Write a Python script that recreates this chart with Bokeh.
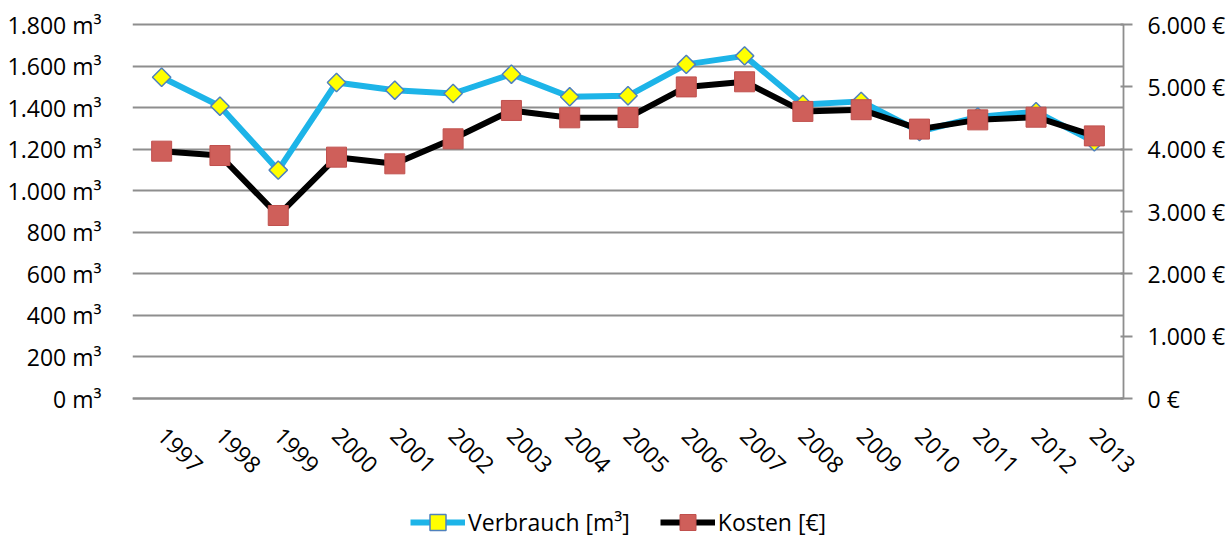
import math
from bokeh.plotting import figure
from bokeh.models import (Range1d, LinearAxis, FixedTicker, Legend, LegendItem, Grid)
from bokeh.embed import file_html
from bokeh.resources import INLINE

years = ["1997", "1998", "1999", "2000", "2001", "2002", "2003", "2004", "2005",
         "2006", "2007", "2008", "2009", "2010", "2011", "2012", "2013"]
verbrauch = [1546, 1407, 1099, 1521, 1484, 1468, 1561, 1452, 1457,
             1608, 1649, 1415, 1430, 1285, 1355, 1380, 1235]
kosten = [3968, 3898, 2936, 3872, 3765, 4166, 4621, 4503, 4507,
          4999, 5081, 4606, 4633, 4322, 4470, 4513, 4213]

left_ticks = [0, 200, 400, 600, 800, 1000, 1200, 1400, 1600, 1800]
left_labels = ["0 m³", "200 m³", "400 m³", "600 m³", "800 m³", "1.000 m³",
               "1.200 m³", "1.400 m³", "1.600 m³", "1.800 m³"]
right_ticks = [0, 1000, 2000, 3000, 4000, 5000, 6000]
right_labels = ["0 €", "1.000 €", "2.000 €", "3.000 €", "4.000 €", "5.000 €", "6.000 €"]

FONT = "Open Sans"
FS = "23px"
GRID = "#8E8E8E"

# category positions (one slot per year)
xs = list(range(len(years)))
x_lo, x_hi = xs[0] - 0.5, xs[-1] + 0.5

# layout: plot area 991 x 374 px; frame extended right (right axis labels),
# up (top label) and down (category labels and legend)
PLOT_W, PLOT_H = 991, 374
EXTRA_R, EXTRA_B, EXTRA_T = 109, 137, 24
slot = PLOT_W / len(years)
y_lo = -EXTRA_B * 1800 / PLOT_H
y_hi = 1800 + EXTRA_T * 1800 / PLOT_H

p = figure(frame_width=PLOT_W + EXTRA_R, frame_height=PLOT_H + EXTRA_B + EXTRA_T,
           x_range=Range1d(x_lo, x_hi + EXTRA_R / slot),
           y_range=Range1d(y_lo, y_hi), output_backend="svg", toolbar_location=None,
           min_border_left=132, min_border_right=0, min_border_top=0,
           min_border_bottom=0, outline_line_color=None)
p.extra_y_ranges = {"eur": Range1d(y_lo * 6000 / 1800, y_hi * 6000 / 1800)}

# left axis
yax = p.yaxis[0]
yax.ticker = FixedTicker(ticks=left_ticks)
yax.bounds = (0, 1800)
yax.major_label_overrides = dict(zip(left_ticks, left_labels))
yax.axis_line_color = None
yax.major_tick_line_color = None
yax.minor_tick_line_color = None
yax.major_label_standoff = 25
yax.major_label_text_font = FONT
yax.major_label_text_font_size = FS
yax.major_label_text_color = "#000000"

p.xgrid.grid_line_color = None
yg = p.ygrid[0]
yg.ticker = FixedTicker(ticks=left_ticks)
yg.grid_line_color = GRID
yg.grid_line_width = 1.8
if "cross_bounds" in Grid.properties():
    yg.cross_bounds = (x_lo, x_hi)
else:
    yg.grid_line_color = None
    p.segment(x0=[x_lo] * len(left_ticks), x1=[x_hi] * len(left_ticks),
              y0=left_ticks, y1=left_ticks, line_color=GRID, line_width=1.8)

# x axis, pinned at value 0
xax = p.xaxis[0]
xax.fixed_location = 0
xax.bounds = (x_lo, x_hi)
xax.ticker = FixedTicker(ticks=xs)
xax.major_label_overrides = dict(zip(xs, years))
xax.major_label_orientation = -math.pi / 4
xax.axis_line_color = GRID
xax.axis_line_width = 1.8
xax.major_tick_line_color = None
xax.minor_tick_line_color = None
xax.major_label_standoff = 27
xax.major_label_text_font = FONT
xax.major_label_text_font_size = FS
xax.major_label_text_color = "#000000"

# right axis, pinned at the right edge of the plot area
rax = LinearAxis(y_range_name="eur", ticker=FixedTicker(ticks=right_ticks),
                 bounds=(0, 6000), fixed_location=x_hi)
rax.major_label_overrides = dict(zip(right_ticks, right_labels))
rax.axis_line_color = GRID
rax.axis_line_width = 1.8
rax.major_tick_line_color = GRID
rax.major_tick_line_width = 1.8
rax.major_tick_in = 3
rax.major_tick_out = 9
rax.minor_tick_line_color = None
rax.major_label_standoff = 15
rax.major_label_text_font = FONT
rax.major_label_text_font_size = FS
rax.major_label_text_color = "#000000"
p.add_layout(rax, "right")

# series
r1 = p.line(xs, verbrauch, line_color="#1DB4E8", line_width=6, line_join="round")
r2 = p.scatter(xs, verbrauch, marker="square", angle=math.pi / 4, size=13,
               fill_color="#FFFF00", line_color="#4F81BD", line_width=1.5)
r3 = p.line(xs, kosten, y_range_name="eur", line_color="#000000", line_width=6,
            line_join="round")
r4 = p.scatter(xs, kosten, y_range_name="eur", marker="square", size=20,
               fill_color="#CF5F5A", line_color="#C0504D", line_width=1)

legend = Legend(items=[LegendItem(label="Verbrauch [m³]", renderers=[r1, r2]),
                       LegendItem(label="Kosten [€]", renderers=[r3, r4])],
                orientation="horizontal", location=(278, -7),
                padding=0, margin=0, spacing=30, label_standoff=3,
                glyph_width=55, glyph_height=40,
                border_line_color=None, background_fill_alpha=0,
                label_text_font=FONT, label_text_font_size=FS,
                label_text_color="#000000")
p.add_layout(legend)

open("out.html", "w").write(file_html(p, INLINE))
